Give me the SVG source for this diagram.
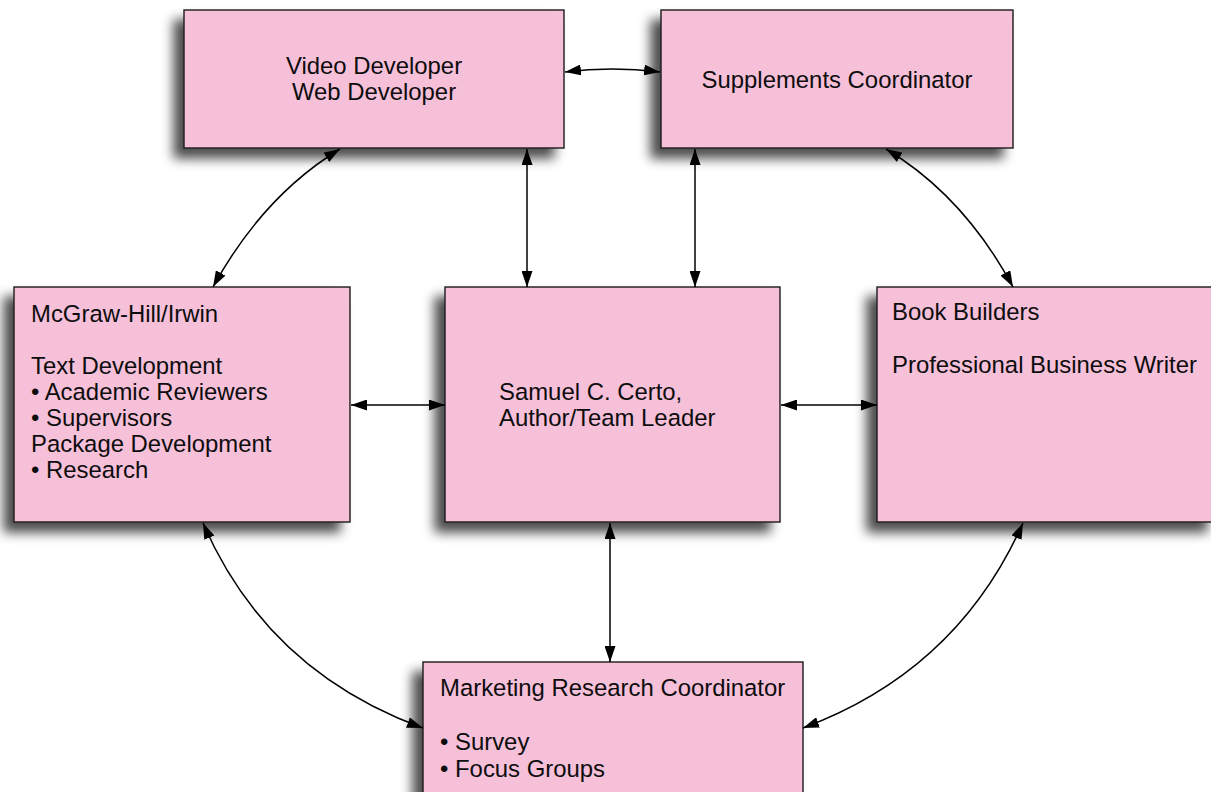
<svg xmlns="http://www.w3.org/2000/svg" width="1211" height="792" viewBox="0 0 1211 792">
  <defs>
    <filter id="shadow" x="-20%" y="-20%" width="140%" height="150%">
      <feGaussianBlur in="SourceAlpha" stdDeviation="6"/>
      <feOffset dx="-10" dy="10" result="blur"/>
      <feComponentTransfer>
        <feFuncA type="linear" slope="0.7"/>
      </feComponentTransfer>
      <feMerge>
        <feMergeNode/>
        <feMergeNode in="SourceGraphic"/>
      </feMerge>
    </filter>
    <marker id="arrow" viewBox="0 0 16 11" refX="16" refY="5.5" markerWidth="16" markerHeight="11" markerUnits="userSpaceOnUse" orient="auto-start-reverse">
      <path d="M0,0 L16,5.5 L0,11 Z" fill="#000"/>
    </marker>
  </defs>
  <style>
    .box { fill: #F6C0D9; stroke: #1a1a1a; stroke-width: 1.4; filter: url(#shadow); }
    .label { font-family: "Liberation Sans", Arial, Helvetica, sans-serif; font-size: 23.9px; fill: #0d0d0d; }
    .mid { text-anchor: middle; }
    .link { fill: none; stroke: #000; stroke-width: 1.5; marker-start: url(#arrow); marker-end: url(#arrow); }
  </style>
  <rect width="1211" height="792" fill="#fff"/>

  <g id="video-web-developer">
    <rect class="box" x="184" y="10" width="380" height="138"/>
    <text class="label mid" x="374" y="74">Video Developer</text>
    <text class="label mid" x="374" y="100">Web Developer</text>
  </g>

  <g id="supplements-coordinator">
    <rect class="box" x="661" y="10" width="352" height="138"/>
    <text class="label mid" x="837" y="88">Supplements Coordinator</text>
  </g>

  <g id="mcgraw-hill-irwin">
    <rect class="box" x="14" y="287" width="336" height="235"/>
    <text class="label" x="31" y="322">McGraw-Hill/Irwin</text>
    <text class="label" x="31" y="374">Text Development</text>
    <text class="label" x="31" y="400">• Academic Reviewers</text>
    <text class="label" x="31" y="426">• Supervisors</text>
    <text class="label" x="31" y="452">Package Development</text>
    <text class="label" x="31" y="478">• Research</text>
  </g>

  <g id="author-team-leader">
    <rect class="box" x="445" y="287" width="335" height="235"/>
    <text class="label" x="499" y="400">Samuel C. Certo,</text>
    <text class="label" x="499" y="426">Author/Team Leader</text>
  </g>

  <g id="book-builders">
    <rect class="box" x="877" y="287" width="340" height="235"/>
    <text class="label" x="892" y="320">Book Builders</text>
    <text class="label" x="892" y="373">Professional Business Writer</text>
  </g>

  <g id="marketing-research-coordinator">
    <rect class="box" x="423" y="662" width="380" height="140"/>
    <text class="label" x="440" y="696">Marketing Research Coordinator</text>
    <text class="label" x="440" y="750">• Survey</text>
    <text class="label" x="440" y="777">• Focus Groups</text>
  </g>

  <g id="connectors">
    <path class="link" d="M565,72 Q612,66 660,72"/>
    <path class="link" d="M340,149 Q263,196 213,287"/>
    <path class="link" d="M886,149 Q964,196 1013,287"/>
    <path class="link" d="M527,149 L527,287"/>
    <path class="link" d="M695,149 L695,287"/>
    <path class="link" d="M351,405 L445,405"/>
    <path class="link" d="M781,405 L877,405"/>
    <path class="link" d="M610,523 L610,662"/>
    <path class="link" d="M203,523 Q267,671 423,728"/>
    <path class="link" d="M1023,523 Q957,671 803,728"/>
  </g>
</svg>
